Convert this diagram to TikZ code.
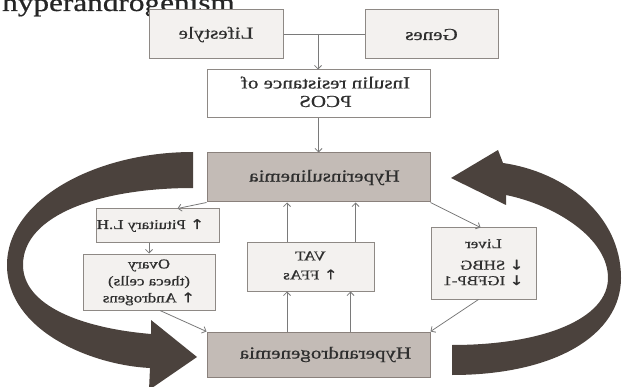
\documentclass[tikz,border=0pt]{standalone}
\usepackage{fontspec}
\setmainfont[FakeBold=0.6]{Liberation Serif}
\newfontfamily\arrowfont[FakeBold=0.3]{DejaVu Sans}
\usetikzlibrary{arrows.meta,calc}
\definecolor{boxfill}{HTML}{F3F1EF}
\definecolor{taupe}{HTML}{C3BBB6}
\definecolor{boxline}{HTML}{8E8985}
\definecolor{taupeline}{HTML}{8A817C}
\definecolor{linegray}{HTML}{7A7A7A}
\definecolor{band}{HTML}{4B423D}
\definecolor{txt}{HTML}{2E2E2E}
\newcommand{\mt}[2][1.25]{\scalebox{-#1}[1]{#2}}
\newcommand{\uparr}{{\arrowfont ↑}}
\newcommand{\dnarr}{{\arrowfont ↓}}
\begin{document}
\begin{tikzpicture}[x=1pt,y=-1pt,
  box/.style={draw=boxline, line width=1pt, fill=boxfill, inner sep=0pt, text=txt, align=center},
  mainbox/.style={box, font=\fontsize{16.8}{18.5}\selectfont},
  sidebox/.style={box, font=\fontsize{13.5}{17}\selectfont},
  tbox/.style={box, draw=taupeline, fill=taupe, font=\fontsize{16.8}{18.5}\selectfont},
  arr/.style={draw=linegray, line width=0.8pt, -{Straight Barb[length=3.5pt,width=7pt]}},
  ln/.style={draw=linegray, line width=0.8pt},
  bigarrow/.style={fill=band, draw=none}]
\clip (0,0) rectangle (623,387);
\fill[white] (0,0) rectangle (623,387);

% caption (cut off at top, as in the reference)
\node[anchor=base west, font=\fontsize{25}{30}\selectfont, text=black!85, inner sep=0pt] (cap) at (2,11) {\scalebox{1.25}[1]{hyperandrogenism}};

% big curved arrows
\fill[bigarrow] (193,152) .. controls (95,152) and (7,200) .. (7,265)
  .. controls (7,330) and (90,365) .. (150,368)
  -- (149,390) -- (197,357) -- (151,320) -- (151,334)
  .. controls (80,328) and (23,305) .. (23,265)
  .. controls (23,215) and (100,188) .. (193,188) -- cycle;
\fill[bigarrow] (452,375) .. controls (555,375) and (621,335) .. (621,278)
  .. controls (621,215) and (565,172) .. (503,163)
  -- (498,150) -- (451,178) -- (506,205) -- (506,195)
  .. controls (555,205) and (608,238) .. (608,278)
  .. controls (608,318) and (545,345) .. (452,345) -- cycle;

% boxes
\node[mainbox, minimum width=134pt, minimum height=49pt] (life) at (216,34.5) {\mt{Lifestyle}};
\node[mainbox, minimum width=133pt, minimum height=49pt] (genes) at (431.5,34.5) {\mt{Genes}};
\node[mainbox, fill=white, minimum width=223pt, minimum height=48pt] (ins) at (318.5,94)
  {\hspace*{14pt}\mt{\begin{tabular}{@{}c@{}}Insulin resistance of\\PCOS\end{tabular}}};
\node[tbox, minimum width=223pt, minimum height=49pt] (hins) at (318.5,177.5) {\hspace*{12pt}\mt{Hyperinsulinemia}};
\node[tbox, minimum width=223pt, minimum height=45pt] (handr) at (318.5,354.5) {\hspace*{14pt}\mt{Hyperandrogenemia}};
\node[sidebox, minimum width=123pt, minimum height=33pt] (pit) at (157.5,225.5) {\mt{\uparr\ Pituitary L.H}\hspace*{14pt}};
\node[sidebox, minimum width=132pt, minimum height=56pt] (ova) at (149,282)
  {\mt{\begin{tabular}{@{}c@{}}Ovary\\(theca cells)\\\uparr\ Androgens\end{tabular}}};
\node[sidebox, minimum width=127pt, minimum height=49pt] (vat) at (310.5,266.5)
  {\mt{\begin{tabular}{@{}c@{}}VAT\\[2pt]\uparr\ FFAs\end{tabular}}};
\node[sidebox, font=\fontsize{13.5}{15.5}\selectfont, minimum width=105pt, minimum height=71pt] (liv) at (483.5,263.5)
  {\mt{\begin{tabular}{@{}l@{}}\multicolumn{1}{@{}c@{}}{Liver}\\[6pt]\dnarr\ SHBG\\\dnarr\ IGFBP-1\end{tabular}}};

% connectors
\coordinate (j) at (318,34);
\draw[ln] (life.east) -- (genes.west);
\draw[arr] (j) -- (j |- ins.north);
\draw[arr] (ins.south) -- (hins.north);
\draw[arr] (hins.south west) -- ([xshift=20pt]pit.north);
\draw[arr] (pit.south -| ova.north) -- (ova.north);
\draw[arr] ([xshift=11pt]ova.south) -- (handr.north west);
\draw[arr] (hins.south east) -- ([xshift=-3pt]liv.north);
\draw[arr] ([xshift=-5pt]liv.south) -- (handr.north east);
\coordinate (v1t) at ([xshift=-23.5pt]vat.north);
\coordinate (v2t) at ([xshift=45pt]vat.north);
\coordinate (v1b) at ([xshift=-23.5pt]vat.south);
\coordinate (v2b) at ([xshift=40pt]vat.south);
\draw[arr] (v1t) -- (v1t |- hins.south);
\draw[arr] (v2t) -- (v2t |- hins.south);
\draw[arr] (v1b |- handr.north) -- (v1b);
\draw[arr] (v2b |- handr.north) -- (v2b);
\end{tikzpicture}
\end{document}
